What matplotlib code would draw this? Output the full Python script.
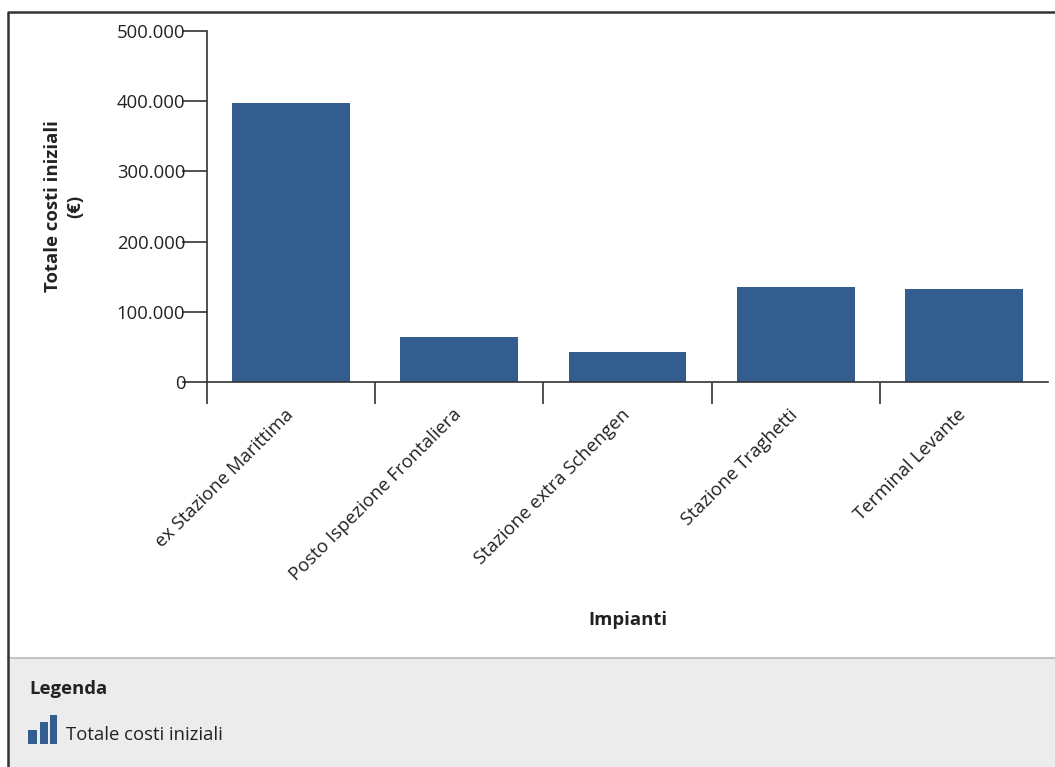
import matplotlib
matplotlib.use("Agg")
import matplotlib.pyplot as plt
from matplotlib.patches import Rectangle
from matplotlib.lines import Line2D
from matplotlib.ticker import FuncFormatter, FixedLocator
from matplotlib.transforms import ScaledTranslation

# Data
categories = ["ex Stazione Marittima", "Posto Ispezione Frontaliera",
              "Stazione extra Schengen", "Stazione Traghetti", "Terminal Levante"]
costs = [398000, 64000, 43000, 135000, 132000]
y_ticks = [0, 100000, 200000, 300000, 400000, 500000]

W, H = 1055, 767
BAR = "#345d8f"
TXT = "#222222"
FS = 13.3
plt.rcParams["font.family"] = ["Open Sans", "DejaVu Sans"]

fig = plt.figure(figsize=(W / 100, H / 100), dpi=100)
fig.patch.set_facecolor("white")


def fx(x):
    return x / W


def fy(y):
    return 1 - y / H


# Window frame and legend panel
fig.patches.append(Rectangle((fx(8), 0), 1 - fx(8), fy(658), transform=fig.transFigure,
                             facecolor="#ececec", edgecolor="none", zorder=0))
fig.lines.append(Line2D([fx(8), 1], [fy(658), fy(658)], transform=fig.transFigure,
                        color="#c4c4c4", lw=1.5))
fig.lines.append(Line2D([fx(8), fx(8), 1], [0, fy(12), fy(12)], transform=fig.transFigure,
                        color="#333333", lw=1.8))

ax = fig.add_axes([fx(207), fy(382), fx(1048) - fx(207), fy(31) - fy(382)])
x = list(range(len(categories)))
ax.bar(x, costs, width=0.70, color=BAR, zorder=2)

ax.set_xlim(-0.5, len(categories) - 0.5)
ax.set_ylim(0, 500000)
for s in ("top", "right"):
    ax.spines[s].set_visible(False)
for s in ("left", "bottom"):
    ax.spines[s].set_color("#333333")
    ax.spines[s].set_linewidth(1.2)

ax.set_yticks(y_ticks)
ax.yaxis.set_major_formatter(FuncFormatter(lambda v, p: f"{int(v):,}".replace(",", ".")))
ax.tick_params(axis="y", length=18, width=1.2, color="#333333", labelsize=FS,
               labelcolor=TXT, pad=-2.5)

ax.xaxis.set_major_locator(FixedLocator([i - 0.5 for i in x]))
ax.xaxis.set_minor_locator(FixedLocator(x))
ax.set_xticklabels([], minor=False)
ax.set_xticklabels(categories, minor=True, rotation=45, ha="right",
                   rotation_mode="anchor", fontsize=FS, color=TXT)
ax.tick_params(axis="x", which="major", length=16, width=1.2, color="#333333")
ax.tick_params(axis="x", which="minor", length=0, pad=17)
shift = ScaledTranslation(-7 / 100, 0, fig.dpi_scale_trans)
for lbl in ax.get_xticklabels(minor=True):
    lbl.set_transform(lbl.get_transform() + shift)

ax.set_ylabel("Totale costi iniziali\n(€)", fontsize=FS, fontweight="bold",
              color=TXT, linespacing=1.3)
ax.yaxis.set_label_coords((84 - 207) / (1048 - 207), 0.50)
ax.set_xlabel("Impianti", fontsize=FS, fontweight="bold", color=TXT)
ax.xaxis.set_label_coords((628 - 207) / (1048 - 207), -(611 - 382) / (382 - 31))

# Legend panel
fig.text(fx(29), fy(689), "Legenda", fontsize=FS, fontweight="bold", color=TXT,
         va="center", ha="left")
for x0, x1, top in [(28, 37, 730), (40, 48, 722), (50, 57, 715)]:
    fig.patches.append(Rectangle((fx(x0), fy(744)), fx(x1) - fx(x0), fy(top) - fy(744),
                                 transform=fig.transFigure, facecolor=BAR, edgecolor="none"))
fig.text(fx(66), fy(735), "Totale costi iniziali", fontsize=FS, color=TXT,
         va="center", ha="left")

fig.savefig("out.png", dpi=100, facecolor="white")
